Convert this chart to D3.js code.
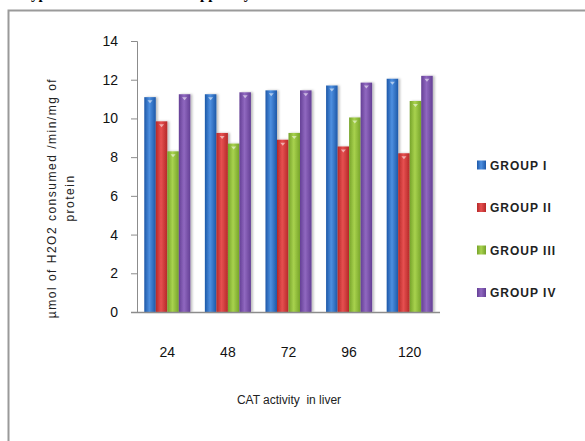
<!DOCTYPE html>
<html>
<head>
<meta charset="utf-8">
<script src="https://cdn.jsdelivr.net/npm/d3@7"></script>
<style>
  body { margin: 0; background: #fff; }
  svg { display: block; font-family: "Liberation Sans", Arial, sans-serif; }
</style>
</head>
<body>
<div id="chart"></div>
<script>
'use strict';

// data
var hours = ["24", "48", "72", "96", "120"];
var groups = ["GROUP I", "GROUP II", "GROUP III", "GROUP IV"];
var group1 = [11.1, 11.25, 11.45, 11.7, 12.05];
var group2 = [9.85, 9.25, 8.9, 8.55, 8.2];
var group3 = [8.3, 8.7, 9.25, 10.05, 10.9];
var group4 = [11.25, 11.35, 11.45, 11.85, 12.2];
var yTicks = [0, 2, 4, 6, 8, 10, 12, 14];

var colors = [
  { id: "g1", edge: "#1d58a8", mid: "#4d8fe0" },
  { id: "g2", edge: "#b52828", mid: "#e65050" },
  { id: "g3", edge: "#76a32a", mid: "#a8d24e" },
  { id: "g4", edge: "#643f95", mid: "#9068c0" }
];

var series = [group1, group2, group3, group4];

var W = 585, H = 441;
var svg = d3.select("#chart").append("svg").attr("width", W).attr("height", H);

var defs = svg.append("defs");
colors.forEach(function (c) {
  var g = defs.append("linearGradient").attr("id", c.id)
    .attr("x1", "0%").attr("x2", "100%").attr("y1", "0%").attr("y2", "0%");
  g.append("stop").attr("offset", "0%").attr("stop-color", c.edge);
  g.append("stop").attr("offset", "45%").attr("stop-color", c.mid);
  g.append("stop").attr("offset", "100%").attr("stop-color", c.edge);
});
var shadow = defs.append("filter").attr("id", "shadow")
  .attr("x", "-20%").attr("y", "-5%").attr("width", "160%").attr("height", "110%");
shadow.append("feDropShadow").attr("dx", 2).attr("dy", 0).attr("stdDeviation", 1.2)
  .attr("flood-color", "#000").attr("flood-opacity", 0.25);

// cropped caption line from the page above (only its lower edge shows)
svg.append("text")
  .attr("x", 22).attr("y", -1)
  .style("font-family", "'Liberation Serif', 'Times New Roman', serif")
  .style("font-weight", "bold").style("font-size", "15px")
  .text("Typical CAT levels were mapped by");

// frame
svg.append("rect")
  .attr("x", 8.5).attr("y", 10.5).attr("width", W + 10).attr("height", H + 10)
  .attr("fill", "none").attr("stroke", "#9a9a9a").attr("stroke-width", 2);

var x0 = d3.scaleBand().domain(hours).range([137, 440]).paddingInner(0.24).paddingOuter(0.12);
var x1 = d3.scaleBand().domain(d3.range(groups.length)).range([0, x0.bandwidth()]);
var y = d3.scaleLinear().domain([0, 14]).range([312, 41]);

// y axis
var yAxis = svg.append("g").attr("transform", "translate(137,0)")
  .call(d3.axisLeft(y).tickValues(yTicks).tickSize(6).tickPadding(13));
yAxis.select(".domain").attr("stroke", "#8c8c8c");
yAxis.selectAll(".tick line").attr("stroke", "#8c8c8c");
yAxis.selectAll(".tick text").attr("fill", "#111").style("font-size", "14px")
  .style("font-family", "'Liberation Sans', Arial, sans-serif");

// bars
var cat = svg.append("g").selectAll("g").data(hours).join("g")
  .attr("transform", function (d) { return "translate(" + x0(d) + ",0)"; });

cat.selectAll("rect")
  .data(function (d, i) { return series.map(function (s, k) { return { k: k, v: s[i] }; }); })
  .join("rect")
  .attr("x", function (d) { return x1(d.k); })
  .attr("width", x1.bandwidth())
  .attr("y", function (d) { return y(d.v); })
  .attr("height", function (d) { return y(0) - y(d.v); })
  .attr("fill", function (d) { return "url(#" + colors[d.k].id + ")"; })
  .attr("filter", "url(#shadow)");

// little highlight marks at bar tops
cat.selectAll("path")
  .data(function (d, i) { return series.map(function (s, k) { return { k: k, v: s[i] }; }); })
  .join("path")
  .attr("d", function (d) {
    var cx = x1(d.k) + x1.bandwidth() / 2, ty = y(d.v) + 3;
    return "M" + (cx - 2.5) + "," + ty + "L" + (cx + 2.5) + "," + ty + "L" + cx + "," + (ty + 3) + "Z";
  })
  .attr("fill", "#fff").attr("opacity", 0.55);

// x axis baseline
svg.append("line")
  .attr("x1", 131).attr("x2", 440).attr("y1", y(0) + 0.5).attr("y2", y(0) + 0.5)
  .attr("stroke", "#8c8c8c").attr("stroke-width", 1.5);

svg.append("g").selectAll("text").data(hours).join("text")
  .attr("x", function (d) { return x0(d) + x0.bandwidth() / 2; })
  .attr("y", 357)
  .attr("text-anchor", "middle")
  .style("font-size", "14px").attr("fill", "#111")
  .text(function (d) { return d; });

// axis titles
svg.append("text")
  .attr("x", 289).attr("y", 404)
  .attr("text-anchor", "middle")
  .style("font-size", "12px").style("white-space", "pre").attr("fill", "#222")
  .text("CAT activity  in liver");

var yt = svg.append("text")
  .attr("transform", "translate(56,198) rotate(-90)")
  .attr("text-anchor", "middle")
  .style("font-size", "12px").style("letter-spacing", "1.5px").attr("fill", "#222");
yt.append("tspan").attr("x", 0).attr("dy", 0).text("\u00b5mol of H2O2 consumed /min/mg of");
yt.append("tspan").attr("x", 0).attr("dy", 18).text("protein");

// legend
var leg = svg.append("g").selectAll("g").data(groups).join("g")
  .attr("transform", function (d, i) { return "translate(477," + (165 + i * 42.5) + ")"; });
leg.append("rect")
  .attr("x", 0).attr("y", -4.5).attr("width", 9).attr("height", 9)
  .attr("fill", function (d, i) { return "url(#" + colors[i].id + ")"; });
leg.append("text")
  .attr("x", 13).attr("y", 4.5)
  .style("font-size", "12px").style("font-weight", "bold").style("letter-spacing", "1px")
  .attr("fill", "#222")
  .text(function (d) { return d; });
</script>
</body>
</html>
